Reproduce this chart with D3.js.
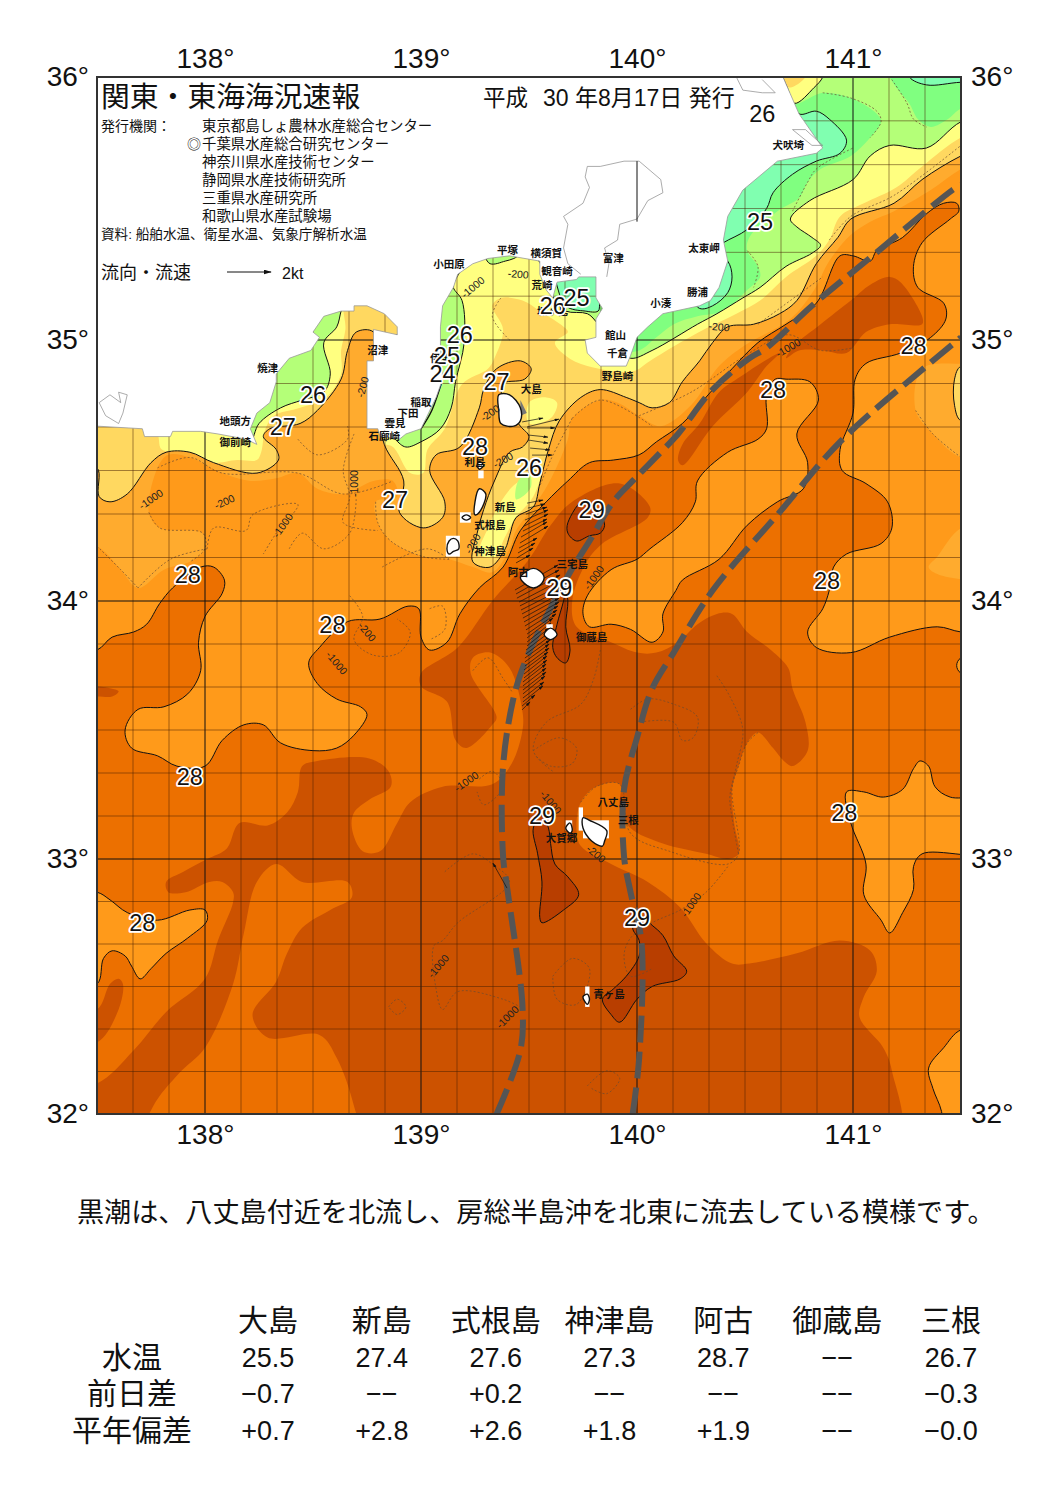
<!DOCTYPE html>
<html>
<head>
<meta charset="utf-8">
<script src="https://cdn.jsdelivr.net/npm/d3@7"></script>
<style>
    body { margin: 0; background: #fff; }
    text { font-family: "Liberation Sans", "Noto Sans CJK JP", sans-serif; }
</style>
</head>
<body>
<svg id="chart" width="1064" height="1503"></svg>
<script>
"use strict";

// sea temperature zones, [lon, lat]. each one holds the water warmer than its level
var zone25 = [[140.75,35.86],[140.83,35.87],[140.89,35.84],[140.97,35.76],[140.94,35.71],[140.83,35.68],[140.72,35.63],[140.63,35.56],[140.60,35.50],[140.51,35.42],[140.40,35.37],[140.35,35.34],[140.42,35.30],[140.44,35.24],[140.42,35.18],[140.35,35.13],[140.29,35.12],[140.22,35.19],[139.92,35.30],[139.83,35.15],[139.82,35.11],[139.76,35.11],[139.67,35.13],[139.60,35.27],[139.37,35.53],[137.33,35.53],[137.33,31.86],[141.68,31.86],[141.68,35.98],[141.50,35.98],[141.34,35.97],[141.26,36.00],[141.24,36.06],[140.62,36.06],[140.69,35.97]];
var zone255 = [[141.15,36.06],[141.17,36.00],[141.20,35.96],[141.26,35.90],[141.30,35.84],[141.36,35.81],[141.44,35.84],[141.50,35.88],[141.68,35.91],[141.68,31.86],[137.33,31.86],[137.33,35.53],[139.37,35.53],[139.60,35.27],[139.67,35.13],[139.76,35.11],[139.82,35.11],[139.90,35.08],[139.93,34.96],[140.01,34.96],[140.09,35.01],[140.17,35.06],[140.28,35.09],[140.40,35.11],[140.51,35.19],[140.57,35.24],[140.56,35.28],[140.51,35.34],[140.52,35.39],[140.65,35.49],[140.75,35.54],[140.79,35.60],[140.85,35.65],[140.99,35.70],[141.08,35.77],[141.13,35.83],[141.11,35.86],[140.99,35.92],[140.86,35.94],[140.73,35.90],[140.69,35.97],[140.62,36.06]];
var zone26 = [[141.68,35.87],[141.50,35.83],[141.34,35.73],[141.17,35.74],[141.08,35.70],[141.00,35.61],[140.80,35.53],[140.71,35.46],[140.74,35.43],[140.81,35.39],[140.85,35.36],[140.81,35.33],[140.69,35.28],[140.57,35.20],[140.49,35.16],[140.37,35.10],[140.28,35.06],[140.07,34.96],[139.97,34.93],[139.88,34.98],[139.81,35.07],[139.77,35.10],[139.67,35.11],[139.62,35.15],[139.59,35.23],[139.50,35.34],[139.43,35.31],[139.39,35.30],[139.32,35.29],[139.27,35.34],[139.16,35.23],[139.15,35.20],[139.19,35.15],[139.20,34.99],[139.16,34.84],[139.14,34.74],[139.09,34.66],[139.00,34.61],[138.93,34.59],[138.88,34.62],[138.81,34.69],[138.83,34.98],[138.95,35.06],[138.88,35.16],[138.65,35.16],[138.63,35.11],[138.61,35.05],[138.55,34.99],[138.58,34.87],[138.55,34.80],[138.45,34.77],[138.35,34.74],[138.25,34.68],[138.21,34.61],[138.16,34.69],[137.33,34.69],[137.33,31.86],[141.68,31.86]];
var zone26North = [[140.66,36.06],[140.87,36.06],[140.86,36.00],[140.82,35.96],[140.73,35.90],[140.69,35.97]];
var zone265North = [[140.66,36.06],[140.79,36.06],[140.78,36.00],[140.71,35.96],[140.69,35.97]];
var zone265 = [[141.68,35.82],[141.50,35.77],[141.32,35.66],[141.20,35.58],[141.05,35.52],[140.94,35.47],[140.89,35.38],[140.83,35.32],[140.69,35.24],[140.57,35.15],[140.46,35.10],[140.31,35.04],[140.20,34.99],[140.06,34.92],[139.98,34.88],[139.77,34.90],[139.67,34.94],[139.62,34.99],[139.68,35.03],[139.66,35.05],[139.55,35.11],[139.47,35.15],[139.37,35.16],[139.33,35.13],[139.38,35.04],[139.34,34.93],[139.31,34.89],[139.19,34.83],[139.11,34.66],[139.03,34.58],[139.01,34.49],[138.95,34.49],[138.87,34.59],[138.80,34.61],[138.76,34.69],[138.83,34.98],[138.95,35.06],[138.88,35.16],[138.65,35.16],[138.65,35.04],[138.63,34.96],[138.63,34.87],[138.56,34.78],[138.44,34.74],[138.32,34.71],[138.28,34.66],[138.26,34.57],[138.24,34.54],[138.15,34.54],[138.02,34.53],[137.93,34.57],[137.80,34.58],[137.77,34.65],[137.33,34.69],[137.33,31.86],[141.68,31.86]];
var zone27 = [[137.33,31.86],[137.33,34.50],[137.50,34.51],[137.51,34.40],[137.56,34.38],[137.64,34.41],[137.75,34.53],[137.82,34.57],[137.93,34.57],[138.04,34.53],[138.24,34.49],[138.34,34.54],[138.33,34.58],[138.27,34.63],[138.30,34.66],[138.44,34.68],[138.52,34.73],[138.63,34.85],[138.66,34.96],[138.70,35.03],[138.78,35.03],[138.79,34.77],[138.83,34.60],[138.92,34.46],[138.90,34.34],[139.01,34.28],[139.10,34.32],[139.11,34.38],[139.04,34.50],[139.07,34.56],[139.18,34.59],[139.27,34.74],[139.29,34.81],[139.35,34.89],[139.46,34.92],[139.51,34.89],[139.48,34.85],[139.37,34.83],[139.41,34.73],[139.46,34.67],[139.50,34.63],[139.47,34.59],[139.41,34.57],[139.34,34.46],[139.29,34.35],[139.26,34.26],[139.24,34.15],[139.32,34.13],[139.39,34.20],[139.41,34.25],[139.44,34.32],[139.52,34.36],[139.55,34.45],[139.59,34.58],[139.64,34.69],[139.74,34.78],[139.83,34.81],[139.95,34.78],[140.01,34.76],[140.07,34.74],[140.15,34.76],[140.21,34.84],[140.29,34.92],[140.35,34.99],[140.42,35.05],[140.54,35.06],[140.66,35.10],[140.74,35.15],[140.83,35.29],[140.93,35.39],[140.99,35.46],[141.19,35.52],[141.32,35.61],[141.50,35.70],[141.68,35.76],[141.68,31.86]];
var zone275 = [[137.33,31.86],[137.33,34.23],[137.50,34.21],[137.61,34.12],[137.69,34.05],[137.81,34.12],[137.93,34.15],[138.00,34.20],[137.99,34.26],[137.79,34.28],[137.74,34.34],[137.78,34.51],[137.83,34.56],[137.93,34.55],[138.08,34.49],[138.21,34.46],[138.33,34.47],[138.43,34.49],[138.52,34.43],[138.64,34.41],[138.78,34.46],[138.87,34.46],[138.89,34.40],[138.79,34.38],[138.80,34.30],[138.86,34.23],[139.01,34.17],[139.13,34.16],[139.24,34.13],[139.33,34.11],[139.41,34.20],[139.44,34.27],[139.52,34.36],[139.59,34.45],[139.68,34.62],[139.70,34.70],[139.83,34.77],[139.91,34.76],[140.01,34.71],[140.11,34.67],[140.25,34.75],[140.38,34.90],[140.50,34.98],[140.71,35.08],[140.82,35.19],[140.89,35.30],[140.99,35.40],[141.08,35.45],[141.19,35.49],[141.36,35.57],[141.50,35.65],[141.68,35.72],[141.68,31.86]];
var zone28 = [[137.33,31.86],[137.33,33.80],[137.50,33.81],[137.57,33.86],[137.67,33.88],[137.73,33.91],[137.79,33.99],[137.85,34.05],[137.98,34.13],[138.04,34.13],[138.09,34.08],[138.08,34.03],[138.00,33.94],[137.97,33.84],[137.98,33.73],[137.92,33.64],[137.81,33.59],[137.69,33.58],[137.63,33.50],[137.66,33.43],[137.78,33.40],[137.87,33.36],[138.00,33.36],[138.08,33.46],[138.18,33.52],[138.27,33.52],[138.35,33.45],[138.50,33.42],[138.61,33.43],[138.69,33.48],[138.75,33.56],[138.72,33.59],[138.61,33.62],[138.52,33.68],[138.48,33.76],[138.53,33.82],[138.66,33.92],[138.81,33.93],[138.94,33.98],[138.99,33.97],[139.00,33.86],[139.04,33.81],[139.12,33.84],[139.18,33.95],[139.27,34.05],[139.38,34.13],[139.46,34.27],[139.58,34.38],[139.68,34.46],[139.78,34.53],[139.89,34.54],[140.01,34.56],[140.09,34.61],[140.21,34.68],[140.34,34.80],[140.44,34.89],[140.56,34.99],[140.69,35.06],[140.83,35.14],[140.94,35.32],[141.00,35.32],[141.08,35.30],[141.11,35.34],[141.23,35.39],[141.34,35.48],[141.42,35.52],[141.48,35.52],[141.49,35.49],[141.45,35.46],[141.32,35.37],[141.28,35.28],[141.30,35.20],[141.42,35.14],[141.43,35.08],[141.36,35.01],[141.22,34.95],[141.06,34.91],[141.01,34.85],[141.00,34.72],[140.94,34.58],[140.95,34.50],[141.06,34.45],[141.16,34.38],[141.18,34.28],[141.13,34.22],[140.97,34.18],[140.91,34.13],[140.89,34.04],[140.86,33.97],[140.79,33.88],[140.83,33.82],[140.99,33.80],[141.17,33.86],[141.39,33.90],[141.50,33.88],[141.68,33.88],[141.68,31.86]];
var zone285 = [[137.33,31.86],[137.33,32.11],[137.50,32.12],[137.67,32.25],[137.82,32.40],[138.00,32.53],[138.06,32.68],[138.13,32.83],[138.13,32.87],[138.08,32.91],[138.02,32.91],[137.91,32.87],[137.83,32.87],[137.82,32.91],[137.90,32.95],[138.01,33.00],[138.10,33.04],[138.16,33.14],[138.29,33.13],[138.38,33.18],[138.43,33.26],[138.45,33.36],[138.52,33.38],[138.76,33.39],[138.85,33.34],[138.86,33.28],[138.76,33.23],[138.69,33.18],[138.68,33.12],[138.73,33.03],[138.81,33.03],[138.89,33.14],[138.95,33.22],[139.10,33.28],[139.33,33.29],[139.42,33.37],[139.47,33.50],[139.47,33.57],[139.41,33.74],[139.32,33.80],[139.24,33.78],[139.23,33.72],[139.35,33.55],[139.33,33.52],[139.21,33.43],[139.16,33.46],[139.12,33.61],[139.00,33.67],[139.00,33.72],[139.17,33.82],[139.33,34.00],[139.50,34.16],[139.60,34.29],[139.70,34.38],[139.92,34.45],[140.06,34.36],[140.05,34.32],[139.84,34.22],[139.76,34.14],[139.70,34.00],[139.72,33.90],[139.88,33.84],[140.00,33.80],[140.09,33.80],[140.19,33.84],[140.28,33.91],[140.37,33.95],[140.44,33.95],[140.51,33.88],[140.62,33.81],[140.70,33.74],[140.72,33.66],[140.78,33.53],[140.79,33.42],[140.72,33.36],[140.68,33.38],[140.63,33.43],[140.56,33.49],[140.51,33.45],[140.47,33.36],[140.44,33.27],[140.45,33.14],[140.47,33.02],[140.42,33.00],[140.32,33.02],[140.12,33.06],[139.97,33.12],[139.92,33.20],[139.92,33.29],[139.81,33.28],[139.74,33.22],[139.72,33.11],[139.74,33.05],[139.88,32.98],[140.05,32.91],[140.20,32.81],[140.32,32.67],[140.44,32.59],[140.52,32.59],[140.74,32.63],[140.94,32.68],[141.08,32.64],[141.11,32.56],[141.05,32.46],[141.03,32.38],[141.14,32.26],[141.18,32.17],[141.19,31.86]];
var zone285East = [[141.17,35.24],[141.22,35.22],[141.32,35.09],[141.32,35.06],[141.17,35.06],[141.06,35.03],[140.97,34.95],[140.86,34.96],[140.75,34.96],[140.69,34.93],[140.73,34.98],[140.85,35.06],[140.99,35.15],[141.08,35.21]];
var zone285Blob = [[140.19,34.54],[140.21,34.60],[140.29,34.68],[140.38,34.80],[140.48,34.86],[140.59,34.92],[140.66,34.95],[140.60,34.90],[140.51,34.80],[140.35,34.67],[140.21,34.52]];
var zone285Finger = [[137.50,32.41],[137.56,32.51],[137.60,32.53],[137.62,32.51],[137.60,32.41],[137.50,32.28],[137.33,32.28],[137.33,32.41]];
var zone285Small = [[137.33,33.67],[137.50,33.67],[137.57,33.66],[137.60,33.65],[137.57,33.63],[137.50,33.63],[137.33,33.63]];
var zone29A = [[139.68,34.30],[139.68,34.26],[139.72,34.23],[139.78,34.25],[139.83,34.26],[139.85,34.29],[139.83,34.33],[139.76,34.39]];
var zone29B = [[139.52,33.12],[139.54,33.02],[139.56,32.91],[139.55,32.77],[139.56,32.75],[139.66,32.80],[139.73,32.86],[139.68,32.93],[139.62,32.98],[139.60,33.06],[139.59,33.12],[139.56,33.17]];
var zone29C = [[139.98,32.73],[140.01,32.68],[140.01,32.62],[139.95,32.54],[139.89,32.49],[139.84,32.45],[139.88,32.39],[139.92,32.36],[140.00,32.45],[140.07,32.50],[140.20,32.53],[140.23,32.56],[140.17,32.62],[140.12,32.70],[140.07,32.74],[140.01,32.78]];
var zone29D = [[139.66,34.00],[139.63,33.91],[139.61,33.82],[139.63,33.78],[139.67,33.76],[139.69,33.81],[139.67,33.90],[139.68,34.00],[139.67,34.04]];

// pockets of cooler water lying inside a warmer zone
var cool28Center = [[140.60,34.79],[140.60,34.66],[140.56,34.62],[140.42,34.57],[140.28,34.46],[140.27,34.38],[140.21,34.30],[140.06,34.20],[140.00,34.16],[139.88,34.12],[139.77,34.02],[139.75,33.95],[139.78,33.90],[139.88,33.91],[139.97,33.89],[140.07,33.84],[140.12,33.88],[140.12,33.95],[140.18,34.04],[140.21,34.08],[140.38,34.16],[140.51,34.29],[140.65,34.38],[140.77,34.43],[140.79,34.53],[140.74,34.64],[140.84,34.77],[140.80,34.84],[140.69,34.85],[140.64,34.85]];
var cool28East = [[140.97,33.26],[141.05,33.26],[141.14,33.24],[141.23,33.27],[141.28,33.35],[141.31,33.38],[141.35,33.36],[141.38,33.28],[141.45,33.24],[141.68,33.23],[141.68,33.03],[141.32,33.02],[141.28,32.97],[141.28,32.88],[141.23,32.79],[141.17,32.71],[141.13,32.76],[141.05,32.86],[141.06,32.98],[140.99,33.14]];
var cool28Corner = [[141.68,32.33],[141.50,32.33],[141.42,32.26],[141.35,32.18],[141.37,32.10],[141.41,32.01],[141.43,31.86],[141.68,31.86]];
var cool28West = [[137.33,32.87],[137.50,32.87],[137.56,32.84],[137.64,32.79],[137.78,32.76],[137.93,32.80],[138.00,32.80],[138.01,32.76],[137.92,32.69],[137.82,32.63],[137.75,32.57],[137.70,32.53],[137.66,32.58],[137.63,32.62],[137.57,32.64],[137.53,32.61],[137.50,32.51],[137.33,32.51]];
var cool28Edge = [[141.68,33.79],[141.50,33.78],[141.48,33.75],[141.50,33.72],[141.68,33.71]];
var cool275East = [[141.68,34.91],[141.50,34.91],[141.32,34.89],[141.29,34.73],[141.37,34.64],[141.50,34.55],[141.68,34.55]];
var cool275South = [[141.68,34.31],[141.50,34.28],[141.39,34.17],[141.35,34.13],[141.40,34.10],[141.68,34.10]];
var cool27East = [[141.68,34.90],[141.50,34.90],[141.47,34.85],[141.47,34.75],[141.50,34.69],[141.68,34.69]];
var cool285Tongue = [[137.76,32.03],[137.88,32.16],[138.00,32.26],[138.13,32.51],[138.18,32.71],[138.24,32.91],[138.33,32.98],[138.45,32.91],[138.66,32.91],[138.68,32.85],[138.58,32.80],[138.45,32.73],[138.38,32.63],[138.33,32.52],[138.22,32.39],[138.29,32.30],[138.53,32.31],[138.61,32.22],[138.69,32.03],[138.72,31.86],[137.70,31.86]];
var coolOshima = [[139.50,34.76],[139.58,34.78],[139.63,34.76],[139.60,34.70],[139.50,34.68]];
var coolNiijima = [[139.27,34.18],[139.31,34.28],[139.37,34.38],[139.44,34.45],[139.55,34.49],[139.52,34.40],[139.44,34.32],[139.38,34.23],[139.35,34.17]];
var coolLime = [[139.44,34.39],[139.45,34.46],[139.50,34.49],[139.51,34.44],[139.47,34.40]];
var coolIzu = [[139.10,34.84],[139.04,34.73],[138.99,34.66],[138.98,34.74]];
var contour24 = [[139.10,34.85],[139.05,34.73],[139.00,34.66]];

// land, no data inside
var landCoast = [[137.50,34.67],[137.71,34.66],[137.72,34.63],[137.84,34.63],[137.85,34.65],[137.98,34.65],[138.06,34.64],[138.19,34.62],[138.24,34.60],[138.21,34.66],[138.24,34.72],[138.30,34.76],[138.33,34.84],[138.33,34.87],[138.39,34.93],[138.49,34.96],[138.53,35.01],[138.50,35.03],[138.55,35.09],[138.63,35.11],[138.69,35.11],[138.69,35.13],[138.75,35.13],[138.83,35.10],[138.89,35.05],[138.89,35.02],[138.78,35.04],[138.78,34.92],[138.75,34.92],[138.75,34.66],[138.80,34.66],[138.81,34.63],[138.90,34.62],[138.93,34.64],[139.00,34.66],[139.07,34.78],[139.10,34.85],[139.09,34.98],[139.09,35.05],[139.10,35.13],[139.15,35.20],[139.17,35.25],[139.24,35.29],[139.31,35.31],[139.41,35.32],[139.55,35.30],[139.55,35.25],[139.58,35.19],[139.61,35.16],[139.63,35.22],[139.72,35.23],[139.73,35.24],[139.81,35.24],[139.81,35.16],[139.84,35.12],[139.81,35.08],[139.81,35.01],[139.76,35.00],[139.77,34.95],[139.83,34.90],[139.95,34.90],[139.97,34.94],[140.00,35.01],[140.05,35.05],[140.12,35.10],[140.29,35.13],[140.34,35.15],[140.38,35.20],[140.42,35.30],[140.40,35.38],[140.42,35.47],[140.49,35.57],[140.65,35.68],[140.83,35.71],[140.86,35.73],[140.75,35.86],[140.66,36.03],[140.66,36.06],[137.33,36.06],[137.33,34.67]];
var chibaCoast = [[139.66,35.47],[139.75,35.52],[139.78,35.58],[139.76,35.62],[139.77,35.66],[139.83,35.66],[139.94,35.68],[140.01,35.68],[140.11,35.61],[140.12,35.56],[140.05,35.53],[140.00,35.46],[139.92,35.44],[139.91,35.38],[139.85,35.35],[139.87,35.29],[139.86,35.24]];
var kanagawaCoast = [[139.66,35.47],[139.68,35.44],[139.66,35.35],[139.68,35.29],[139.74,35.25]];
var kasumigaura = [[140.46,36.00],[140.49,35.95],[140.58,35.94],[140.64,35.94],[140.58,35.99]];
var toneMouth = [[140.72,35.80],[140.78,35.80],[140.86,35.74],[140.81,35.74],[140.72,35.80]];
var mikawaCoast = [[137.51,34.76],[137.56,34.79],[137.61,34.76],[137.60,34.80],[137.64,34.79],[137.62,34.72],[137.60,34.68],[137.54,34.71],[137.51,34.76]];
var landMeridian = [[140,35.68],[140,35.45]];
var noData = [[139.73,33.20,139.75,33.11],[139.75,33.15,139.87,33.08],[139.67,33.15,139.70,33.11],[139.76,32.50,139.78,32.42],[139.115,34.25,139.18,34.17],[139.18,34.34,139.23,34.30],[139.58,33.91,139.61,33.895],[139.265,34.50,139.29,34.47]];

var oshima = [[139.36,34.79],[139.41,34.79],[139.46,34.74],[139.46,34.69],[139.43,34.67],[139.37,34.68],[139.36,34.73]];
var oshimaShoal = [[139.46,34.77],[139.49,34.72],[139.46,34.71]];
var toshima = [[139.26,34.52],[139.27,34.535],[139.29,34.52],[139.27,34.505]];
var niijima = [[139.27,34.43],[139.30,34.41],[139.27,34.34],[139.25,34.33],[139.25,34.38]];
var shikine = [[139.19,34.32],[139.21,34.33],[139.23,34.32],[139.21,34.31]];
var kozu = [[139.13,34.23],[139.15,34.24],[139.17,34.23],[139.175,34.20],[139.15,34.19],[139.13,34.18],[139.12,34.20]];
var miyake = [[139.46,34.09],[139.49,34.115],[139.52,34.125],[139.55,34.115],[139.57,34.09],[139.55,34.06],[139.52,34.05],[139.49,34.06]];
var mikura = [[139.57,33.87],[139.60,33.895],[139.63,33.87],[139.60,33.85]];
var hachijo = [[139.75,33.16],[139.78,33.15],[139.86,33.11],[139.85,33.07],[139.84,33.05],[139.79,33.07],[139.75,33.12]];
var kojima = [[139.67,33.12],[139.69,33.14],[139.70,33.11],[139.69,33.10]];
var aogashima = [[139.75,32.46],[139.77,32.47],[139.78,32.45],[139.77,32.43]];

var kuroshioInner = [[139.35,32.00],[139.46,32.25],[139.47,32.42],[139.40,32.88],[139.38,33.01],[139.38,33.36],[139.43,33.63],[139.48,33.76],[139.55,33.89],[139.69,34.11],[139.78,34.23],[139.89,34.38],[139.98,34.46],[140.11,34.57],[140.19,34.64],[140.35,34.81],[140.52,34.93],[140.60,34.97],[140.81,35.13],[141.09,35.32],[141.46,35.57],[141.50,35.59]];
var kuroshioOuter = [[139.98,32.00],[140.01,32.22],[140.02,32.68],[139.97,32.87],[139.94,33.01],[139.94,33.27],[140.00,33.47],[140.07,33.66],[140.17,33.80],[140.35,34.04],[140.66,34.34],[140.94,34.61],[141.34,34.90],[141.50,35.01]];

// bottom contours, 200 m and 1000 m
var depthLines = [
    [[138.01,34.20],[138.04,34.28],[138.19,34.27],[138.22,34.33],[138.43,34.37],[138.33,34.26],[138.27,34.18]],
    [[137.74,34.34],[137.79,34.28],[137.99,34.26],[138.00,34.20],[137.93,34.15]],
    [[137.78,34.51],[137.93,34.55],[138.08,34.49],[138.43,34.49],[138.64,34.41],[138.87,34.46]],
    [[138.69,34.64],[138.64,34.50],[138.67,34.40],[138.64,34.30],[138.80,34.27]],
    [[138.79,34.38],[138.80,34.30],[138.86,34.23],[139.01,34.17],[139.13,34.16]],
    [[138.67,34.02],[138.73,33.94],[138.69,33.85],[138.78,33.79],[138.90,33.80],[138.95,33.88],[138.89,33.93]],
    [[139.11,32.95],[139.24,33.02],[139.33,32.98],[139.41,32.91],[139.17,32.75],[139.10,32.68],[139.06,32.66],[139.07,32.49],[139.10,32.41],[139.17,32.48],[139.38,32.45],[139.46,32.42]],
    [[138.85,32.42],[138.89,32.45],[138.93,32.42],[138.89,32.39],[138.85,32.42]],
    [[139.97,33.58],[140.05,33.62],[140.17,33.60],[140.28,33.55],[140.26,33.47],[140.21,33.46],[140.17,33.53],[140.01,33.53]],
    [[140.37,33.71],[140.43,33.63],[140.49,33.50],[140.46,33.36],[140.43,33.24],[140.44,33.16],[140.47,33.02]],
    [[139.83,33.81],[139.80,33.70],[139.74,33.60],[139.58,33.53],[139.52,33.42],[139.61,33.34]],
    [[140.42,32.97],[140.32,32.87],[140.20,32.80],[140.07,32.75],[139.97,32.69],[139.94,32.62],[139.97,32.54],[140.07,32.57]],
    [[139.61,32.54],[139.70,32.61],[139.78,32.57],[139.72,32.43],[139.63,32.45],[139.61,32.54]],
    [[139.77,32.11],[139.86,32.17],[139.92,32.14],[139.86,32.08],[139.79,32.10]],
    [[139.74,33.22],[139.81,33.28],[139.92,33.29],[139.97,33.10],[140.15,33.03],[140.42,32.98],[140.47,33.02],[140.44,33.27],[140.47,33.36],[140.51,33.45],[140.56,33.49]],
    [[139.70,34.70],[139.83,34.77],[140.07,34.67]],
    [[140.01,34.71],[140.25,34.80],[140.52,34.95],[140.70,35.02],[140.85,34.96],[141.00,34.97]],
    [[140.51,35.34],[140.56,35.28],[140.54,35.20]],
    [[139.37,35.16],[139.33,35.09],[139.41,35.00]],
    [[139.04,33.97],[139.10,33.98],[139.11,33.89],[139.04,33.85]],
    [[139.24,33.73],[139.31,33.78],[139.38,33.70],[139.42,33.65]],
    [[141.18,35.99],[141.25,35.90],[141.28,35.84],[141.34,35.81]],
    [[140.86,35.94],[140.99,35.92],[141.11,35.87],[141.13,35.83],[141.08,35.77]],
    [[140.72,35.49],[140.79,35.60],[140.83,35.65],[141.00,35.73]],
    [[140.89,35.38],[140.99,35.47],[141.19,35.55],[141.50,35.74]],
    [[140.56,35.06],[140.86,35.24]],
    [[141.29,34.73],[141.37,34.64],[141.50,34.55]],
    [[137.50,34.21],[137.61,34.12],[137.69,34.05]],
    [[138.01,34.20],[137.84,34.16],[137.69,34.05]],
    [[138.39,34.20],[138.45,34.26],[138.55,34.20],[138.67,34.26],[138.70,34.39]],
    [[138.82,34.13],[139.03,34.20],[139.13,34.16]],
    [[138.43,34.62],[138.52,34.56],[138.66,34.62],[138.66,34.67]],
    [[139.70,34.70],[139.60,34.54],[139.55,34.44]],
    [[139.27,33.31],[139.33,33.34],[139.38,33.28],[139.29,33.21],[139.26,33.26]],
    [[139.52,33.42],[139.64,33.47],[139.72,33.43],[139.70,33.37],[139.60,33.36],[139.53,33.40]]
];
var depthLabels = [["-1000",137.75,34.39,-35],["-200",138.09,34.38,-25],["-1000",138.36,34.29,-55],["-200",138.73,34.82,-75],["-1000",138.69,34.45,-90],["-1000",139.24,35.20,-40],["-200",139.45,35.25,5],["-200",140.38,35.05,5],["-1000",140.70,34.97,-30],["-200",139.32,34.72,-35],["-200",139.38,34.54,-30],["-200",139.24,34.22,-60],["-1000",139.80,34.09,-55],["-200",138.75,33.88,50],["-1000",138.61,33.76,50],["-1000",139.21,33.30,-35],["-1000",139.08,32.58,-50],["-1000",139.40,32.38,-45],["-1000",139.60,33.22,50],["-200",139.81,33.02,40],["-1000",140.25,32.82,-55]];

// measured currents, from lon, from lat, to lon, to lat
var flowArrows = [
    [139.468,34.686,139.565,34.701],[139.491,34.667,139.639,34.697],[139.491,34.663,139.620,34.663],[139.495,34.636,139.588,34.628],[139.495,34.617,139.588,34.605],[139.505,34.586,139.597,34.579],[139.514,34.559,139.607,34.559],
    [139.491,34.375,139.565,34.387],[139.495,34.356,139.574,34.372],[139.486,34.333,139.583,34.360],[139.481,34.310,139.588,34.349],[139.477,34.287,139.588,34.333],[139.472,34.268,139.583,34.314],[139.463,34.245,139.583,34.303],[139.458,34.222,139.588,34.287],[139.454,34.203,139.537,34.241],[139.449,34.184,139.528,34.222],[139.444,34.165,139.519,34.203],[139.440,34.146,139.505,34.176],
    [139.435,34.042,139.634,34.138],[139.440,34.027,139.639,34.119],[139.444,34.011,139.644,34.100],[139.454,33.996,139.648,34.080],[139.458,33.981,139.648,34.061],[139.463,33.965,139.644,34.042],[139.468,33.950,139.644,34.027],[139.472,33.934,139.639,34.011],[139.477,33.919,139.639,33.996],[139.481,33.903,139.634,33.981],[139.486,33.888,139.630,33.965],[139.491,33.872,139.625,33.950],[139.491,33.857,139.611,33.934],[139.491,33.841,139.602,33.915],[139.491,33.826,139.593,33.895],[139.486,33.810,139.597,33.880],[139.486,33.795,139.597,33.864],[139.481,33.779,139.597,33.849],[139.481,33.764,139.593,33.833],[139.481,33.748,139.593,33.818],[139.477,33.733,139.588,33.802],[139.477,33.717,139.583,33.787],[139.477,33.702,139.583,33.771],[139.472,33.686,139.579,33.756],[139.472,33.671,139.579,33.740],[139.472,33.655,139.579,33.725],[139.472,33.640,139.574,33.709],[139.472,33.624,139.569,33.686],[139.472,33.609,139.565,33.671],[139.468,33.593,139.528,33.636],[139.468,33.578,139.505,33.609],
    [139.398,32.886,139.333,32.984]
];

var contourLabels = [["26",140.58,35.86],["25",140.57,35.45],["26",139.61,35.13],["25",139.72,35.16],["26",139.18,35.02],["25",139.12,34.94],["24",139.10,34.87],["27",139.35,34.84],["26",138.50,34.79],["27",138.36,34.67],["28",139.25,34.59],["26",139.50,34.51],["27",138.88,34.39],["29",139.79,34.35],["28",137.92,34.10],["28",138.59,33.91],["28",141.28,34.98],["28",140.63,34.81],["28",140.88,34.08],["28",139.64,34.05],["29",139.64,34.05],["28",137.93,33.32],["28",140.96,33.18],["29",139.56,33.17],["29",140.00,32.77],["28",137.71,32.75]];
var placeNames = [["犬吠埼",140.70,35.74],["太東岬",140.31,35.35],["勝浦",140.28,35.18],["小湊",140.11,35.14],["富津",139.89,35.31],["館山",139.90,35.02],["千倉",139.91,34.95],["野島崎",139.91,34.86],["横須賀",139.58,35.33],["観音崎",139.63,35.26],["荒崎",139.56,35.21],["城ヶ島",139.61,35.11],["平塚",139.40,35.34],["小田原",139.13,35.29],["沼津",138.80,34.96],["焼津",138.29,34.89],["地頭方",138.14,34.69],["御前崎",138.14,34.61],["伊東",139.09,34.93],["稲取",139.00,34.76],["下田",138.94,34.72],["雲見",138.88,34.68],["石廊崎",138.83,34.63],["大島",139.51,34.81],["利島",139.25,34.53],["新島",139.39,34.36],["式根島",139.32,34.29],["神津島",139.32,34.19],["三宅島",139.70,34.14],["阿古",139.45,34.11],["御蔵島",139.79,33.86],["八丈島",139.89,33.22],["三根",139.96,33.15],["大賀郷",139.65,33.08],["青ヶ島",139.87,32.47]];

var lonTicks = [138, 139, 140, 141];
var latTicks = [32, 33, 34, 35, 36];

var orgNames = ["東京都島しょ農林水産総合センター", "千葉県水産総合研究センター", "神奈川県水産技術センター", "静岡県水産技術研究所", "三重県水産研究所", "和歌山県水産試験場"];

var stations = ["大島", "新島", "式根島", "神津島", "阿古", "御蔵島", "三根"];
var rowNames = ["水温", "前日差", "平年偏差"];
var waterTemp = ["25.5", "27.4", "27.6", "27.3", "28.7", "−−", "26.7"];
var dayDiff = ["−0.7", "−−", "+0.2", "−−", "−−", "−−", "−0.3"];
var normalDiff = ["+0.7", "+2.8", "+2.6", "+1.8", "+1.9", "−−", "−0.0"];

var BASE_SEA = "#80ffb0", LIME = "#b4ff78", GREEN = "#80ff80", YELLOW = "#ffff80", PALE = "#ffd860", LIGHT = "#ffab2e", ORANGE = "#ff9a1a", DEEP = "#ec7000", RUST = "#cc5200", DARK = "#b83e00";

// painted in this order, each warmer layer over the last
var layers = [
    { rings: [zone25], fill: GREEN, line: true },
    { rings: [zone255], fill: LIME },
    { rings: [zone26North], fill: YELLOW, line: true },
    { rings: [zone265North], fill: PALE },
    { rings: [zone26], fill: YELLOW, line: true },
    { rings: [zone265], fill: PALE },
    { rings: [coolOshima, coolNiijima], fill: YELLOW },
    { rings: [coolLime], fill: LIME },
    { rings: [coolIzu], fill: "#40e0e0" },
    { rings: [zone27], fill: LIGHT, line: true },
    { rings: [zone275], fill: ORANGE },
    { rings: [cool275East, cool275South], fill: LIGHT },
    { rings: [cool27East], fill: PALE, line: true },
    { rings: [zone28], fill: DEEP, line: true },
    { rings: [cool28Center, cool28East, cool28Corner, cool28West, cool28Edge], fill: ORANGE, line: true },
    { rings: [zone285, zone285East, zone285Blob, zone285Finger, zone285Small], fill: RUST },
    { rings: [cool285Tongue], fill: DEEP },
    { rings: [zone29A, zone29B, zone29C, zone29D], fill: DARK, line: true }
];

var x = d3.scaleLinear().domain([137.5, 141.5]).range([97, 961]);
var y = d3.scaleLinear().domain(latTicks).range([1114, 859, 601, 340, 77]);

var svg = d3.select("#chart");
var defs = svg.append("defs");

defs.append("clipPath").attr("id", "mapClip")
    .append("rect").attr("x", x(137.5)).attr("y", y(36)).attr("width", x(141.5) - x(137.5)).attr("height", y(32) - y(36));

function addHead(id, w, h) {
    var head = defs.append("marker").attr("id", id)
        .attr("viewBox", "0 0 10 6").attr("refX", 9).attr("refY", 3)
        .attr("markerUnits", "userSpaceOnUse").attr("markerWidth", w).attr("markerHeight", h).attr("orient", "auto");
    head.append("path").attr("d", "M0,0L10,3L0,6Z").attr("fill", "#111");
}
addHead("head", 8, 5);
addHead("headSmall", 5, 3);

var smooth = d3.line().x(function (d) { return x(d[0]); }).y(function (d) { return y(d[1]); }).curve(d3.curveCatmullRomClosed.alpha(0.5));
var smoothOpen = d3.line().x(function (d) { return x(d[0]); }).y(function (d) { return y(d[1]); }).curve(d3.curveCatmullRom.alpha(0.5));
var straight = d3.line().x(function (d) { return x(d[0]); }).y(function (d) { return y(d[1]); });

var map = svg.append("g").attr("clip-path", "url(#mapClip)");

map.append("rect").attr("x", 60).attr("y", 40).attr("width", 960).attr("height", 1100).attr("fill", BASE_SEA);

layers.forEach(function (layer) {
    map.append("g").selectAll("path").data(layer.rings).enter().append("path")
        .attr("d", smooth).attr("fill", layer.fill).attr("stroke", "none");
});

// the contour lines go on after all fills so no warmer zone hides them
layers.filter(function (layer) { return layer.line; }).forEach(function (layer) {
    map.append("g").selectAll("path").data(layer.rings).enter().append("path")
        .attr("d", smooth).attr("fill", "none").attr("stroke", "#111").attr("stroke-width", 1);
});
map.append("path").attr("d", smoothOpen(contour24)).attr("fill", "none").attr("stroke", "#111").attr("stroke-width", 1.4);

map.append("g").selectAll("path").data(depthLines).enter().append("path")
    .attr("d", smoothOpen).attr("fill", "none")
    .attr("stroke", "#6a4a30").attr("stroke-width", 0.7).attr("stroke-dasharray", "2,2");

// ten minute grid, whole degrees are black
var gridLon = d3.range(0, 25).map(function (i) { return 137.5 + i / 6; });
var gridLat = d3.range(0, 25).map(function (i) { return 32 + i / 6; });
function isWhole(v) { return Math.abs(v - Math.round(v)) < 1e-6; }
function gridColor(v) { return isWhole(v) ? "#111" : "rgba(70,30,0,0.5)"; }

map.append("g").selectAll("line").data(gridLon).enter().append("line")
    .attr("x1", function (d) { return x(d); }).attr("x2", function (d) { return x(d); })
    .attr("y1", y(36)).attr("y2", y(32)).attr("stroke", gridColor).attr("stroke-width", 1);
map.append("g").selectAll("line").data(gridLat).enter().append("line")
    .attr("y1", function (d) { return y(d); }).attr("y2", function (d) { return y(d); })
    .attr("x1", x(137.5)).attr("x2", x(141.5)).attr("stroke", gridColor).attr("stroke-width", 1);

map.append("path").attr("d", straight(landCoast) + "Z").attr("fill", "#fff").attr("stroke", "#999").attr("stroke-width", 0.8);

[chibaCoast, kanagawaCoast, kasumigaura, toneMouth, mikawaCoast].forEach(function (coast) {
    map.append("path").attr("d", straight(coast)).attr("fill", "none").attr("stroke", "#888").attr("stroke-width", 0.7);
});
map.append("path").attr("d", straight(landMeridian)).attr("stroke", "#111").attr("stroke-width", 1);

[kuroshioInner, kuroshioOuter].forEach(function (axis) {
    map.append("path").attr("d", smoothOpen(axis)).attr("fill", "none")
        .attr("stroke", "#555").attr("stroke-width", 6).attr("stroke-dasharray", "27,9");
});

map.append("g").selectAll("line").data(flowArrows).enter().append("line")
    .attr("x1", function (d) { return x(d[0]); }).attr("y1", function (d) { return y(d[1]); })
    .attr("x2", function (d) { return x(d[2]); }).attr("y2", function (d) { return y(d[3]); })
    .attr("stroke", "#111").attr("stroke-width", 0.7).attr("marker-end", "url(#headSmall)");

map.append("g").selectAll("rect").data(noData).enter().append("rect")
    .attr("x", function (d) { return x(d[0]); }).attr("y", function (d) { return y(d[1]); })
    .attr("width", function (d) { return x(d[2]) - x(d[0]); }).attr("height", function (d) { return y(d[3]) - y(d[1]); })
    .attr("fill", "#fff");

map.append("path").attr("d", straight(oshimaShoal) + "Z").attr("fill", "#777");
map.append("g").selectAll("path").data([oshima, toshima, niijima, shikine, kozu, miyake, mikura, hachijo, kojima, aogashima]).enter().append("path")
    .attr("d", smooth).attr("fill", "#fff").attr("stroke", "#111").attr("stroke-width", 1.4);

svg.append("g").selectAll("text").data(depthLabels).enter().append("text")
    .text(function (d) { return d[0]; })
    .attr("transform", function (d) { return "translate(" + x(d[1]) + "," + y(d[2]) + ") rotate(" + d[3] + ")"; })
    .attr("text-anchor", "middle").attr("dy", "0.35em").attr("font-size", 10.5).attr("fill", "#222");

svg.append("g").selectAll("text").data(placeNames).enter().append("text")
    .text(function (d) { return d[0]; })
    .attr("x", function (d) { return x(d[1]); }).attr("y", function (d) { return y(d[2]); })
    .attr("text-anchor", "middle").attr("dy", "0.36em").attr("font-size", 10.5).attr("font-weight", "bold").attr("fill", "#111");

svg.append("g").selectAll("text").data(contourLabels).enter().append("text")
    .text(function (d) { return d[0]; })
    .attr("x", function (d) { return x(d[1]); }).attr("y", function (d) { return y(d[2]); })
    .attr("text-anchor", "middle").attr("dy", "0.36em").attr("font-size", 23.5)
    .attr("fill", "#111").attr("stroke", "#fff").attr("stroke-width", 3.5).attr("paint-order", "stroke").attr("stroke-linejoin", "round");

svg.append("rect").attr("x", x(137.5)).attr("y", y(36)).attr("width", x(141.5) - x(137.5)).attr("height", y(32) - y(36))
    .attr("fill", "none").attr("stroke", "#333").attr("stroke-width", 2);

// degree labels on all four sides
function degree(d) { return d + "°"; }
function drawAxis(axis, tx, ty) {
    var g = svg.append("g").attr("transform", "translate(" + tx + "," + ty + ")").call(axis);
    g.select(".domain").remove();
    g.selectAll(".tick line").remove();
    g.selectAll("text").attr("font-size", 28).attr("font-family", "Liberation Sans").attr("fill", "#111");
}
drawAxis(d3.axisTop(x).tickValues(lonTicks).tickFormat(degree).tickSize(0).tickPadding(9), 0, y(36));
drawAxis(d3.axisBottom(x).tickValues(lonTicks).tickFormat(degree).tickSize(0).tickPadding(10), 0, y(32));
drawAxis(d3.axisLeft(y).tickValues(latTicks).tickFormat(degree).tickSize(0).tickPadding(8), x(137.5), 0);
drawAxis(d3.axisRight(y).tickValues(latTicks).tickFormat(degree).tickSize(0).tickPadding(10), x(141.5), 0);

// heading box over the land
svg.append("text").text("関東・東海海況速報").attr("x", 101).attr("y", 107).attr("font-size", 28.8).attr("fill", "#111");
svg.append("text").text("平成").attr("x", 483).attr("y", 106).attr("font-size", 22.5).attr("fill", "#111");
svg.append("text").text("30 年8月17日 発行").attr("x", 543).attr("y", 106).attr("font-size", 23).attr("fill", "#111");
svg.append("text").text("発行機関：").attr("x", 101).attr("y", 131).attr("font-size", 14).attr("fill", "#111");
svg.append("text").text("◎").attr("x", 187).attr("y", 149).attr("font-size", 14).attr("fill", "#111");
svg.append("g").selectAll("text").data(orgNames).enter().append("text")
    .text(function (d) { return d; })
    .attr("x", 202).attr("y", function (d, i) { return 131 + i * 18; })
    .attr("font-size", 14.4).attr("fill", "#111");
svg.append("text").text("資料: 船舶水温、衛星水温、気象庁解析水温").attr("x", 101).attr("y", 239).attr("font-size", 13.6).attr("fill", "#111");
svg.append("text").text("流向・流速").attr("x", 101).attr("y", 279).attr("font-size", 18).attr("fill", "#111");
svg.append("line").attr("x1", 227).attr("x2", 271).attr("y1", 272).attr("y2", 272)
    .attr("stroke", "#111").attr("stroke-width", 1).attr("marker-end", "url(#head)");
svg.append("text").text("2kt").attr("x", 282).attr("y", 279).attr("font-size", 16).attr("fill", "#111");

svg.append("text").text("黒潮は、八丈島付近を北流し、房総半島沖を北東に流去している模様です。")
    .attr("x", 77).attr("y", 1222).attr("font-size", 27.1).attr("fill", "#111");

// station table
var col = d3.scalePoint().domain(stations).range([268, 951]);
var rowY = d3.scalePoint().domain(rowNames).range([1357, 1430]);
var tableRows = [waterTemp, dayDiff, normalDiff];

svg.append("g").selectAll("text").data(stations).enter().append("text")
    .text(function (d) { return d; })
    .attr("x", function (d) { return col(d); }).attr("y", 1320).attr("dy", "0.36em")
    .attr("text-anchor", "middle").attr("font-size", 30).attr("fill", "#111");
svg.append("g").selectAll("text").data(rowNames).enter().append("text")
    .text(function (d) { return d; })
    .attr("x", 132).attr("y", function (d) { return rowY(d); }).attr("dy", "0.36em")
    .attr("text-anchor", "middle").attr("font-size", 30).attr("fill", "#111");
tableRows.forEach(function (row, r) {
    svg.append("g").selectAll("text").data(row).enter().append("text")
        .text(function (d) { return d; })
        .attr("x", function (d, i) { return col(stations[i]); }).attr("y", rowY(rowNames[r])).attr("dy", "0.36em")
        .attr("text-anchor", "middle").attr("font-size", 27).attr("fill", "#111");
});
</script>
</body>
</html>
